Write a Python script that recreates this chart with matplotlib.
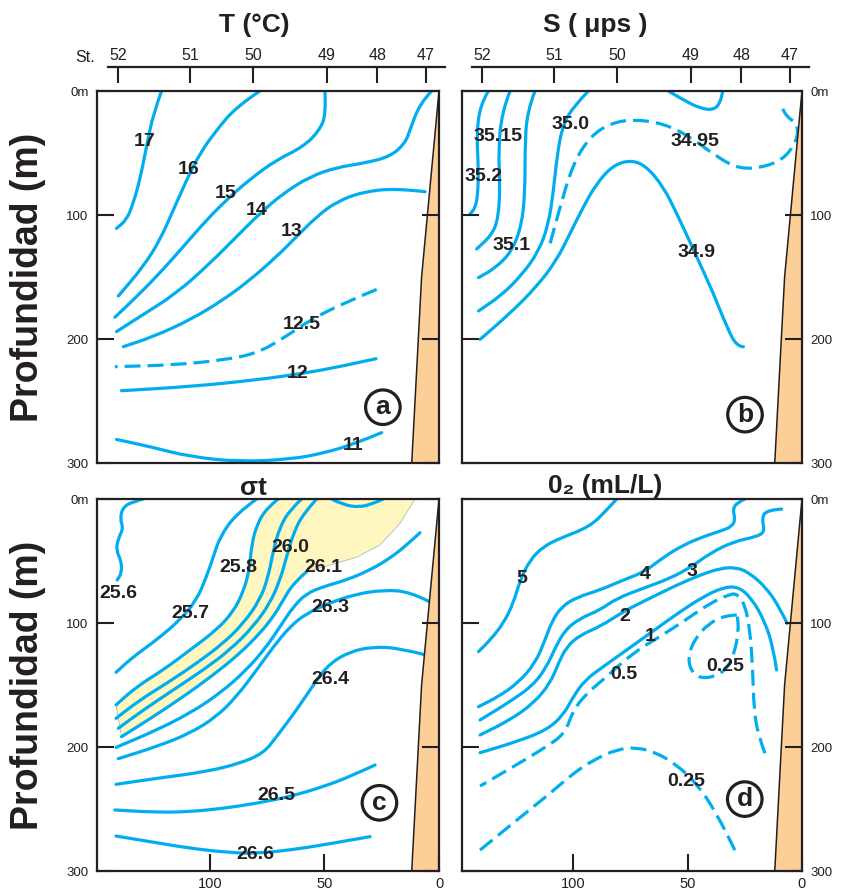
import numpy as np
import matplotlib.pyplot as plt
from matplotlib.patches import Polygon, PathPatch
from matplotlib.path import Path

plt.rcParams['font.family'] = ['Liberation Sans', 'DejaVu Sans']

BLUE = '#00aeef'
INK = '#231f20'
SAND = '#fdcf98'
CREAM = '#fff6c0'

# station names and their distance offshore (km)
stations = ['52', '51', '50', '49', '48', '47']
station_km = [140, 108.5, 81, 49, 27, 5.7]

# continental slope (km, m)
shelf_km = [0, 7.6, 11.9, 0]
shelf_m = [0, 150, 300, 300]

# ---- (a) temperature isolines, points are (km, m)
t17 = [(121.1, 0), (124.7, 18), (127.7, 44.9), (130.6, 71.8), (133.5, 90.6), (136.4, 104), (140.8, 110.8)]
t16 = [(78.2, 0), (88.4, 12.6), (97.1, 31.5), (104.4, 50.3), (110.2, 71.8), (116, 96), (121.8, 120.2),
       (129.1, 141.7), (140, 165.3)]
t15 = [(49.8, 0), (49.3, 18), (52, 31.5), (59.2, 44.9), (70.9, 55.6), (81.1, 69.1), (91.3, 85.2), (101.5, 104),
       (111.6, 125.5), (123.3, 149.7), (133.5, 168.5), (141.5, 182.5)]
t14 = [(3.2, 0), (8.3, 9.9), (12.7, 31.5), (14.8, 42.2), (21.4, 53), (33, 58.3), (44.7, 61.6), (56.3, 69),
       (68, 82.5), (78.2, 98.7), (88.4, 117.5), (100, 139), (114.6, 163.2), (130.6, 182), (140.8, 194.1)]
t13 = [(6.1, 81.2), (18.5, 78.5), (33, 81.2), (44.7, 89.2), (53.4, 101.3), (62.2, 117.5), (70.9, 133.6),
       (82.5, 152.4), (94.2, 168.5), (108.7, 184.7), (124.7, 198.1), (137.8, 206.2)]
t125 = [(27.2, 160), (41.8, 171.2), (56.3, 184.7), (68, 199.5), (79.6, 211.6), (94.2, 217), (116, 221),
        (141.5, 222.3)]
t12 = [(27.5, 215.9), (43.2, 222.3), (59.2, 227.7), (79.6, 233), (108.7, 238.4), (138.6, 241.7)]
t11 = [(25, 275.5), (36, 284), (50.5, 292.2), (65, 297), (86.9, 299), (108.7, 295), (126.2, 286.8), (140.8, 281)]
t_labels = [('17', 128.4, 40.9), ('16', 109.2, 63.7), ('15', 93.2, 83), ('14', 79.6, 96.5), ('13', 64.3, 113.4),
            ('12.5', 59.7, 188.7), ('12', 61.9, 228.2), ('11', 37.4, 285.5)]

# ---- (b) salinity
s352 = [(137, 0), (140.6, 11.3), (142.1, 35.5), (141.3, 62.4), (141.6, 83.9), (142.8, 94.6), (145, 99.2)]
s3515 = [(127.5, 0), (131.1, 16.7), (132.6, 48.9), (131.9, 75.8), (132.6, 102.7), (135.5, 116.1), (142.1, 127.4)]
s351 = [(116.6, 0), (120.2, 16.7), (121, 48.9), (121, 81.2), (122.4, 108.1), (126.8, 129.6), (134.1, 143),
        (141.3, 150.5)]
s350 = [(93.3, 0), (100.6, 14), (104.9, 30.1), (107.1, 54.3), (108.6, 81.2), (110.8, 108.1), (115.1, 129.6),
        (122.4, 148.4), (131.1, 164.5), (141.3, 177.4)]
s3495 = [(110, 122.8), (105.7, 93.3), (99.9, 58.3), (92.6, 36.8), (83.8, 26.1), (73.7, 22.8), (60.6, 26.1),
         (48.9, 36.8), (37.3, 53), (27.1, 63.2), (15.4, 61), (6.7, 53), (1.6, 36.8), (2.3, 26.1), (6.7, 20.7),
         (8.9, 12.6)]
s349 = [(25.6, 206.2), (28.5, 206.2), (32.9, 190), (38.7, 163.2), (46, 133.6), (54.7, 98.7), (60.6, 77.2),
        (67.8, 61), (74.4, 55.6), (82.4, 59.7), (89.7, 74.5), (95.5, 93.3), (101.3, 114.8), (107.1, 136.3),
        (115.9, 157.8), (127.5, 179.3), (140.6, 200.3)]
s_top = [(58.4, 0), (51.8, 7.3), (44.5, 14), (38.7, 15.3), (35.8, 9.9), (34.6, 0)]
s_labels = [('35.15', 132.6, 36.8), ('35.2', 139.2, 69.1), ('35.1', 126.8, 124.2), ('35.0', 101.3, 27.4),
            ('34.95', 46.7, 40.9), ('34.9', 46, 130.4)]

# ---- (c) sigma-t
c256 = [(129.1, 0), (133.5, 2.2), (137.8, 6.2), (139.3, 15.6), (137.8, 23.7), (140, 31.7), (141, 41.1),
        (138.6, 50.5), (138.6, 59.9), (140.5, 65.3)]
c257 = [(79.6, 0), (88.4, 11.6), (95.6, 30.4), (98.5, 46.5), (101.5, 62.6), (105.8, 81.5), (113.1, 97.6),
        (123.3, 113.7), (133.5, 127.2), (141, 139.8)]
c258 = [(70.2, 0), (75.3, 7.5), (79.6, 21), (81.8, 37.1), (82.8, 57.3), (85.4, 74.7), (89.8, 90.9),
        (97.1, 105.6), (108.7, 121.8), (120.4, 137.9), (132, 151.3), (141, 166.1)]
c259 = [(60, 0), (65.1, 8.9), (69.4, 22.3), (72.3, 41.1), (74.5, 62.6), (78.2, 81.5), (85.4, 100.3),
        (94.2, 116.4), (105.8, 132.5), (118.9, 148.7), (130.6, 162.1), (141, 176.9)]
c260 = [(53.4, 0), (59.2, 11.6), (63.6, 27.7), (66.5, 46.5), (69.4, 65.3), (73.8, 84.1), (81.1, 103),
        (91.3, 121.8), (102.9, 137.9), (116, 154), (129.1, 170.2), (140, 184.9)]
c261 = [(57.8, 58.6), (63.6, 68), (68, 81.5), (72.3, 94.9), (78.2, 108.3), (86.9, 124.5), (98.5, 141.9),
        (111.6, 159.4), (124.7, 175.5), (138.6, 191.7)]
c262 = [(8.3, 27.2), (14.1, 37.1), (21.4, 47.8), (30.1, 57.3), (40.3, 65.3), (50.5, 70.7), (57.8, 76.1),
        (63.6, 86.8), (69.4, 103), (75.3, 119.1), (84, 137.9), (95.6, 156.7), (108.7, 172.8), (124.7, 187.6),
        (141, 200.3)]
c263 = [(4.2, 82.8), (12.7, 74.7), (24.3, 73.4), (36, 76.6), (47.6, 83.6), (57.8, 92.2), (65.1, 103),
        (72.3, 119.1), (79.6, 137.9), (88.4, 159.4), (97.1, 175.5), (108.7, 189), (123.3, 199.7), (140, 209.4)]
c264 = [(6.8, 125.3), (17, 120.4), (28.7, 119.1), (38.9, 123.1), (47.6, 132.5), (53.4, 146), (62.2, 170.2),
        (70.9, 191.7), (76.7, 205.1), (86.9, 213.2), (101.5, 219.9), (123.3, 225.3), (141, 230.1)]
c265 = [(27.9, 214.5), (38.9, 223.9), (50.5, 232), (65.1, 240), (79.6, 245.4), (94.2, 249.5), (108.7, 252.2),
        (123.3, 252.7), (141.5, 250.8)]
c266 = [(30.1, 272.3), (50.5, 279), (65.1, 283.1), (79.6, 285.8), (91.3, 285.2), (108.7, 281.7),
        (126.2, 276.3), (141, 271.8)]
c_cup = [(46.9, 0), (41.8, 4.8), (34.5, 6.7), (28.7, 3.5), (24.3, 0)]
cream_edge = [(57.8, 58.6), (47.6, 53.2), (36, 47), (25.8, 37.1), (17, 19.6), (10.5, 0)]
c_labels = [('25.6', 140, 76.1), ('25.7', 108.7, 92.7), ('25.8', 87.6, 55.1), ('26.0', 65.1, 39),
            ('26.1', 50.5, 55.1), ('26.3', 47.6, 87.4), ('26.4', 47.6, 145.4), ('26.5', 70.9, 239.5),
            ('26.6', 80.3, 286.3)]

# ---- (d) dissolved oxygen
o5 = [(80.9, 0), (85.3, 8.9), (92.6, 22.3), (105.7, 31.7), (113, 38.4), (118.8, 49.2), (123.1, 65.3),
      (126.1, 84.1), (130.4, 100.3), (136.2, 113.7), (141.3, 123.1)]
o4 = [(24.9, 0), (28.2, 2.7), (30.3, 8.3), (29.1, 16.4), (30.7, 22.3), (35.1, 25.5), (43.1, 30.4), (51.8, 37.1),
      (60.6, 47), (68.6, 58.6), (78, 65.3), (88.2, 73.4), (98.4, 79.3), (105, 86.8), (109.3, 98.9),
      (112.5, 115.1), (116.6, 132.5), (123.9, 148.1), (132.6, 159.4), (141.3, 167.5)]
o3 = [(8.9, 8.1), (15.4, 8.9), (17.6, 15.6), (16.2, 26.3), (19.8, 30.4), (30, 34.4), (40.2, 43.8),
      (48.2, 54.6), (57.6, 64), (69.3, 72), (80.9, 80.1), (88.2, 89.5), (96.9, 96.2), (103.5, 105.6),
      (107.9, 120.4), (111.5, 135.2), (117.3, 150), (127.5, 163.4), (140.6, 178.2)]
o2 = [(6.5, 100.3), (9.6, 88.2), (15.4, 72), (22.7, 59.9), (28.5, 55.1), (35.8, 55.9), (44.5, 61.3),
      (54.7, 69.4), (66.4, 80), (77.3, 90), (88.2, 102.9), (96.9, 109.7), (102.8, 119.1), (106.4, 132.5),
      (110, 148.7), (117.3, 164.8), (127.5, 178.2), (140.6, 190.3)]
o1 = [(11.1, 137.9), (12.5, 120.4), (16.2, 98.9), (22, 80.1), (27.8, 70.7), (34.4, 71.2), (43.1, 78.8),
      (53.3, 90.9), (66.4, 108.3), (76.6, 121.8), (86.8, 135.2), (94.8, 146), (99.9, 159.4), (104.2, 174.2),
      (111.5, 186.3), (124.6, 195.7), (140.6, 204.6)]
o05 = [(16.2, 205.1), (19.1, 190.3), (21, 170.2), (21.5, 137.9), (22.7, 105.6), (24.9, 85.5), (28.2, 76.6),
       (31.4, 76.6), (40.2, 84.1), (50.4, 97), (62, 111), (73.7, 123.9), (85.3, 143.3), (94, 156.7),
       (99.9, 170.2), (103.5, 189), (111.5, 199.7), (126.1, 215.9), (140.6, 231.5)]
o025a = [(28.5, 93.5), (34.1, 94.1), (40.9, 100.8), (46.7, 112.4), (49.6, 125.8), (48.9, 137.4), (44.8, 144.6),
         (38, 143.3), (32.6, 136.6), (29.3, 123.1), (27.7, 105.6), (28.2, 94.9)]
o025b = [(140.6, 283.1), (124.6, 258.9), (110, 237.4), (99.9, 221.2), (91.1, 210.5), (80.9, 201.9),
         (72.2, 200.3), (63.5, 204.6), (54.7, 214.5), (46, 229.3), (37.3, 253.5), (28.5, 286.3)]
o_labels = [('5', 122.4, 64), ('4', 68.6, 60.5), ('3', 48.2, 58.6), ('2', 77.3, 94.9), ('1', 66.4, 111),
            ('0.5', 78, 141.9), ('0.25', 33.6, 135.2), ('0.25', 50.4, 228)]


def draw(ax, line, dashed=False):
    # smooth the hand-traced isoline with quadratic bezier segments
    p = np.array(line, dtype=float)
    verts = [p[0]]
    codes = [Path.MOVETO]
    for i in range(1, len(p) - 1):
        verts += [p[i], (p[i] + p[i + 1]) / 2]
        codes += [Path.CURVE3, Path.CURVE3]
    verts.append(p[-1])
    codes.append(Path.LINETO)
    style = dict(fill=False, ec=BLUE, lw=2.3, zorder=1.5, joinstyle='round')
    if dashed:
        patch = PathPatch(Path(verts, codes), ls=(0, (5, 2.2)), capstyle='butt', **style)
    else:
        patch = PathPatch(Path(verts, codes), capstyle='round', **style)
    ax.add_patch(patch)


def panel(rect, xmax, right, bottom, letter, letter_pos):
    ax = fig.add_axes(rect)
    ax.set_xlim(xmax, 0)
    ax.set_ylim(300, 0)
    ax.set_yticks([0, 100, 200, 300], ['0m', '100', '200', '300'])
    ax.tick_params(axis='y', direction='in', length=12, width=1.5, left=True, right=True,
                   labelleft=not right, labelright=right, labelsize=9.5, pad=6, colors=INK)
    if bottom:
        ax.set_xticks([100, 50, 0])
        ax.tick_params(axis='x', direction='in', length=12, width=1.5, labelsize=10.5, pad=4, colors=INK)
    else:
        ax.set_xticks([])
    for s in ax.spines.values():
        s.set_linewidth(1.6)
        s.set_color(INK)
    ax.set_axisbelow(False)
    ax.add_patch(Polygon(np.column_stack([shelf_km, shelf_m]), closed=True, fc=SAND, ec=INK, lw=1.1, zorder=2))
    ax.text(letter_pos[0], letter_pos[1], letter, ha='center', va='center', fontsize=19, fontweight='bold',
            color=INK, zorder=5,
            bbox=dict(boxstyle='circle,pad=0.2', fc='white', ec=INK, lw=2.3))
    return ax


def labels(ax, items):
    for s, x, z in items:
        ax.text(x, z, s, ha='center', va='center', fontsize=14, fontweight='bold', color=INK, zorder=4)


def station_bar(left):
    sa = fig.add_axes([left / 848, 1 - 83 / 892, 337 / 848, 16 / 892])
    sa.set_xlim(144.5, -2.6)
    sa.set_ylim(0, 1)
    for s in ['left', 'right', 'bottom']:
        sa.spines[s].set_visible(False)
    sa.spines['top'].set_linewidth(1.6)
    sa.spines['top'].set_color(INK)
    sa.patch.set_visible(False)
    sa.set_yticks([])
    sa.xaxis.tick_top()
    sa.set_xticks(station_km, stations)
    sa.tick_params(axis='x', direction='in', length=11.5, width=1.5, labelsize=11.5, pad=3, colors=INK)


fig = plt.figure(figsize=(8.48, 8.92), dpi=100)

axa = panel([97 / 848, 429 / 892, 342 / 848, 372 / 892], 149.3, False, False, 'a', (24.5, 255))
axb = panel([462 / 848, 429 / 892, 340 / 848, 372 / 892], 148.5, True, False, 'b', (24.9, 261))
axc = panel([97 / 848, 21 / 892, 342 / 848, 372 / 892], 149.3, False, True, 'c', (26, 245))
axd = panel([462 / 848, 21 / 892, 340 / 848, 372 / 892], 148.5, True, True, 'd', (25, 242))

for ln in [t17, t16, t15, t14, t13, t12, t11]:
    draw(axa, ln)
draw(axa, t125, dashed=True)
labels(axa, t_labels)

for ln in [s352, s3515, s351, s350, s349, s_top]:
    draw(axb, ln)
draw(axb, s3495, dashed=True)
labels(axb, s_labels)

cream = np.vstack([c258, c261[::-1], cream_edge[1:]])
axc.add_patch(Polygon(cream, closed=True, fc=CREAM, ec='#9cc7b8', lw=0.6, zorder=1))
for ln in [c256, c257, c258, c259, c260, c261, c262, c263, c264, c265, c266, c_cup]:
    draw(axc, ln)
labels(axc, c_labels)

for ln in [o5, o4, o3, o2, o1]:
    draw(axd, ln)
for ln in [o05, o025a, o025b]:
    draw(axd, ln, dashed=True)
labels(axd, o_labels)

station_bar(108)
station_bar(472)

fig.text(85 / 848, 1 - 57 / 892, 'St.', ha='center', va='center', fontsize=11.5, color=INK)
fig.text(254 / 848, 1 - 25 / 892, 'T (°C)', ha='center', va='center', fontsize=19, fontweight='bold', color=INK)
fig.text(595 / 848, 1 - 25 / 892, 'S ( μps )', ha='center', va='center', fontsize=19, fontweight='bold',
         color=INK)
fig.text(253 / 848, 1 - 488 / 892, 'σt', ha='center', va='center', fontsize=19, fontweight='bold', color=INK)
fig.text(605 / 848, 1 - 486 / 892, '0₂ (mL/L)', ha='center', va='center', fontsize=19, fontweight='bold',
         color=INK)
for yc in [277, 685]:
    fig.text(28 / 848, 1 - yc / 892, 'Profundidad (m)', rotation=90, ha='center', va='center', fontsize=27,
             fontweight='bold', color=INK)

fig.savefig('out.png', dpi=100)
